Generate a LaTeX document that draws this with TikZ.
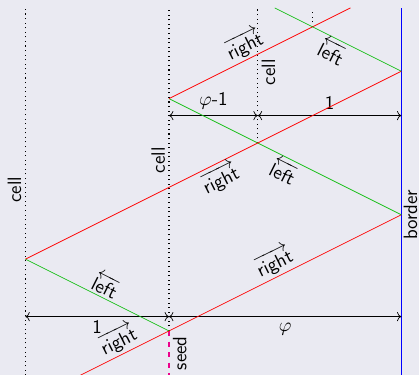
\documentclass[tikz,border=0pt]{standalone}
\usepackage{amsmath,amssymb}
\usepackage{tikz}
\usetikzlibrary{arrows.meta,calc}
\renewcommand{\familydefault}{\sfdefault}
\definecolor{hatter}{RGB}{234,234,242}
\definecolor{zold}{RGB}{20,190,20}
\tikzset{
  cella/.style={dotted,semithick},
  jobb/.style={red},
  bal/.style={zold},
  hatar/.style={blue,semithick},
  mag/.style={magenta,dashed,semithick},
  meret/.style={<->},
  felirat/.style={rotate=90,inner sep=2pt,text=black},
  irany/.style={sloped,inner sep=1.5pt,text=black},
}
\newcommand{\jobbra}{$\overrightarrow{\mathsf{right}}$}
\newcommand{\balra}{$\overleftarrow{\mathsf{left}}$}

\begin{document}
\begin{tikzpicture}[x=2.872cm,y=2.872cm,font=\fontsize{11}{13}\selectfont]
  \pgfmathsetmacro{\gold}{1.618034}
  \useasboundingbox (-1.177,-0.306) rectangle (1.741,2.305);
  \fill[hatter] (-1.177,-0.306) rectangle (1.741,2.305);
  % pontok
  \coordinate (s) at (0,0);
  \coordinate (sb) at (0,-0.31);
  \coordinate (r0) at (-0.62,-0.31);
  \coordinate (l1) at (-1,0.5);
  \coordinate (b1) at (\gold,\gold/2);
  \coordinate (c1) at (0,\gold);
  \coordinate (b2) at (\gold,1+\gold/2);
  \coordinate (x1) at (\gold-1,1+\gold/2-0.5);
  \coordinate (x2) at (1,2.118);
  \coordinate (rt) at (1.264,2.25);
  \coordinate (gt) at (0.736,2.25);
  \coordinate (k1a) at (-1,-0.31); \coordinate (k1f) at (-1,2.24);
  \coordinate (k2f) at (0,2.24);
  \coordinate (k3f) at (\gold-1,2.24);
  \coordinate (k4f) at (1,2.24);
  \coordinate (ha) at (\gold,-0.31); \coordinate (hf) at (\gold,2.25);
  \coordinate (a1) at (-1,0.1); \coordinate (a2) at (0,0.1); \coordinate (a3) at (\gold,0.1);
  \coordinate (f1) at (0,1.5); \coordinate (f2) at (\gold-1,1.5); \coordinate (f3) at (\gold,1.5);
  % cellak
  \draw[cella] (k1a) -- node[pos=0.507,felirat,anchor=south] {cell} (k1f);
  \draw[cella] (s) -- node[pos=0.531,felirat,anchor=south] {cell} (k2f);
  \draw[cella] (x1) -- node[pos=0.53,felirat,anchor=north] {cell} (k3f);
  \draw[cella] (x2) -- (k4f);
  \draw[hatar] (ha) -- node[pos=0.4375,felirat,anchor=north,inner sep=1pt] {border} (hf);
  \draw[mag] (s) -- node[midway,felirat,anchor=north] {seed} (sb);
  % meretek
  \draw[meret] (a1) -- node[below,inner sep=2pt] {1} (a2);
  \draw[meret] (a2) -- node[below] {$\varphi$} (a3);
  \draw[meret] (f1) -- node[above] {$\varphi$-1} (f2);
  \draw[meret] (f2) -- node[above] {1} (f3);
  % jelek
  \draw[jobb] (r0) -- node[pos=0.5,irany,above] {\jobbra} (s)
    -- node[pos=0.48,irany,above] {\jobbra} (b1);
  \draw[bal] (c1) -- node[pos=0.52,irany,below] {\balra} (b1);
  \draw[jobb] (c1) -- node[pos=0.45,irany,above] {\jobbra} (rt);
  \draw[bal] (l1) -- node[pos=0.52,irany,above] {\balra} (s);
  \draw[jobb] (l1) -- node[pos=0.5,irany,below] {\jobbra} (b2);
  \draw[bal] (gt) -- node[pos=0.5,irany,below] {\balra} (b2);
\end{tikzpicture}
\end{document}
